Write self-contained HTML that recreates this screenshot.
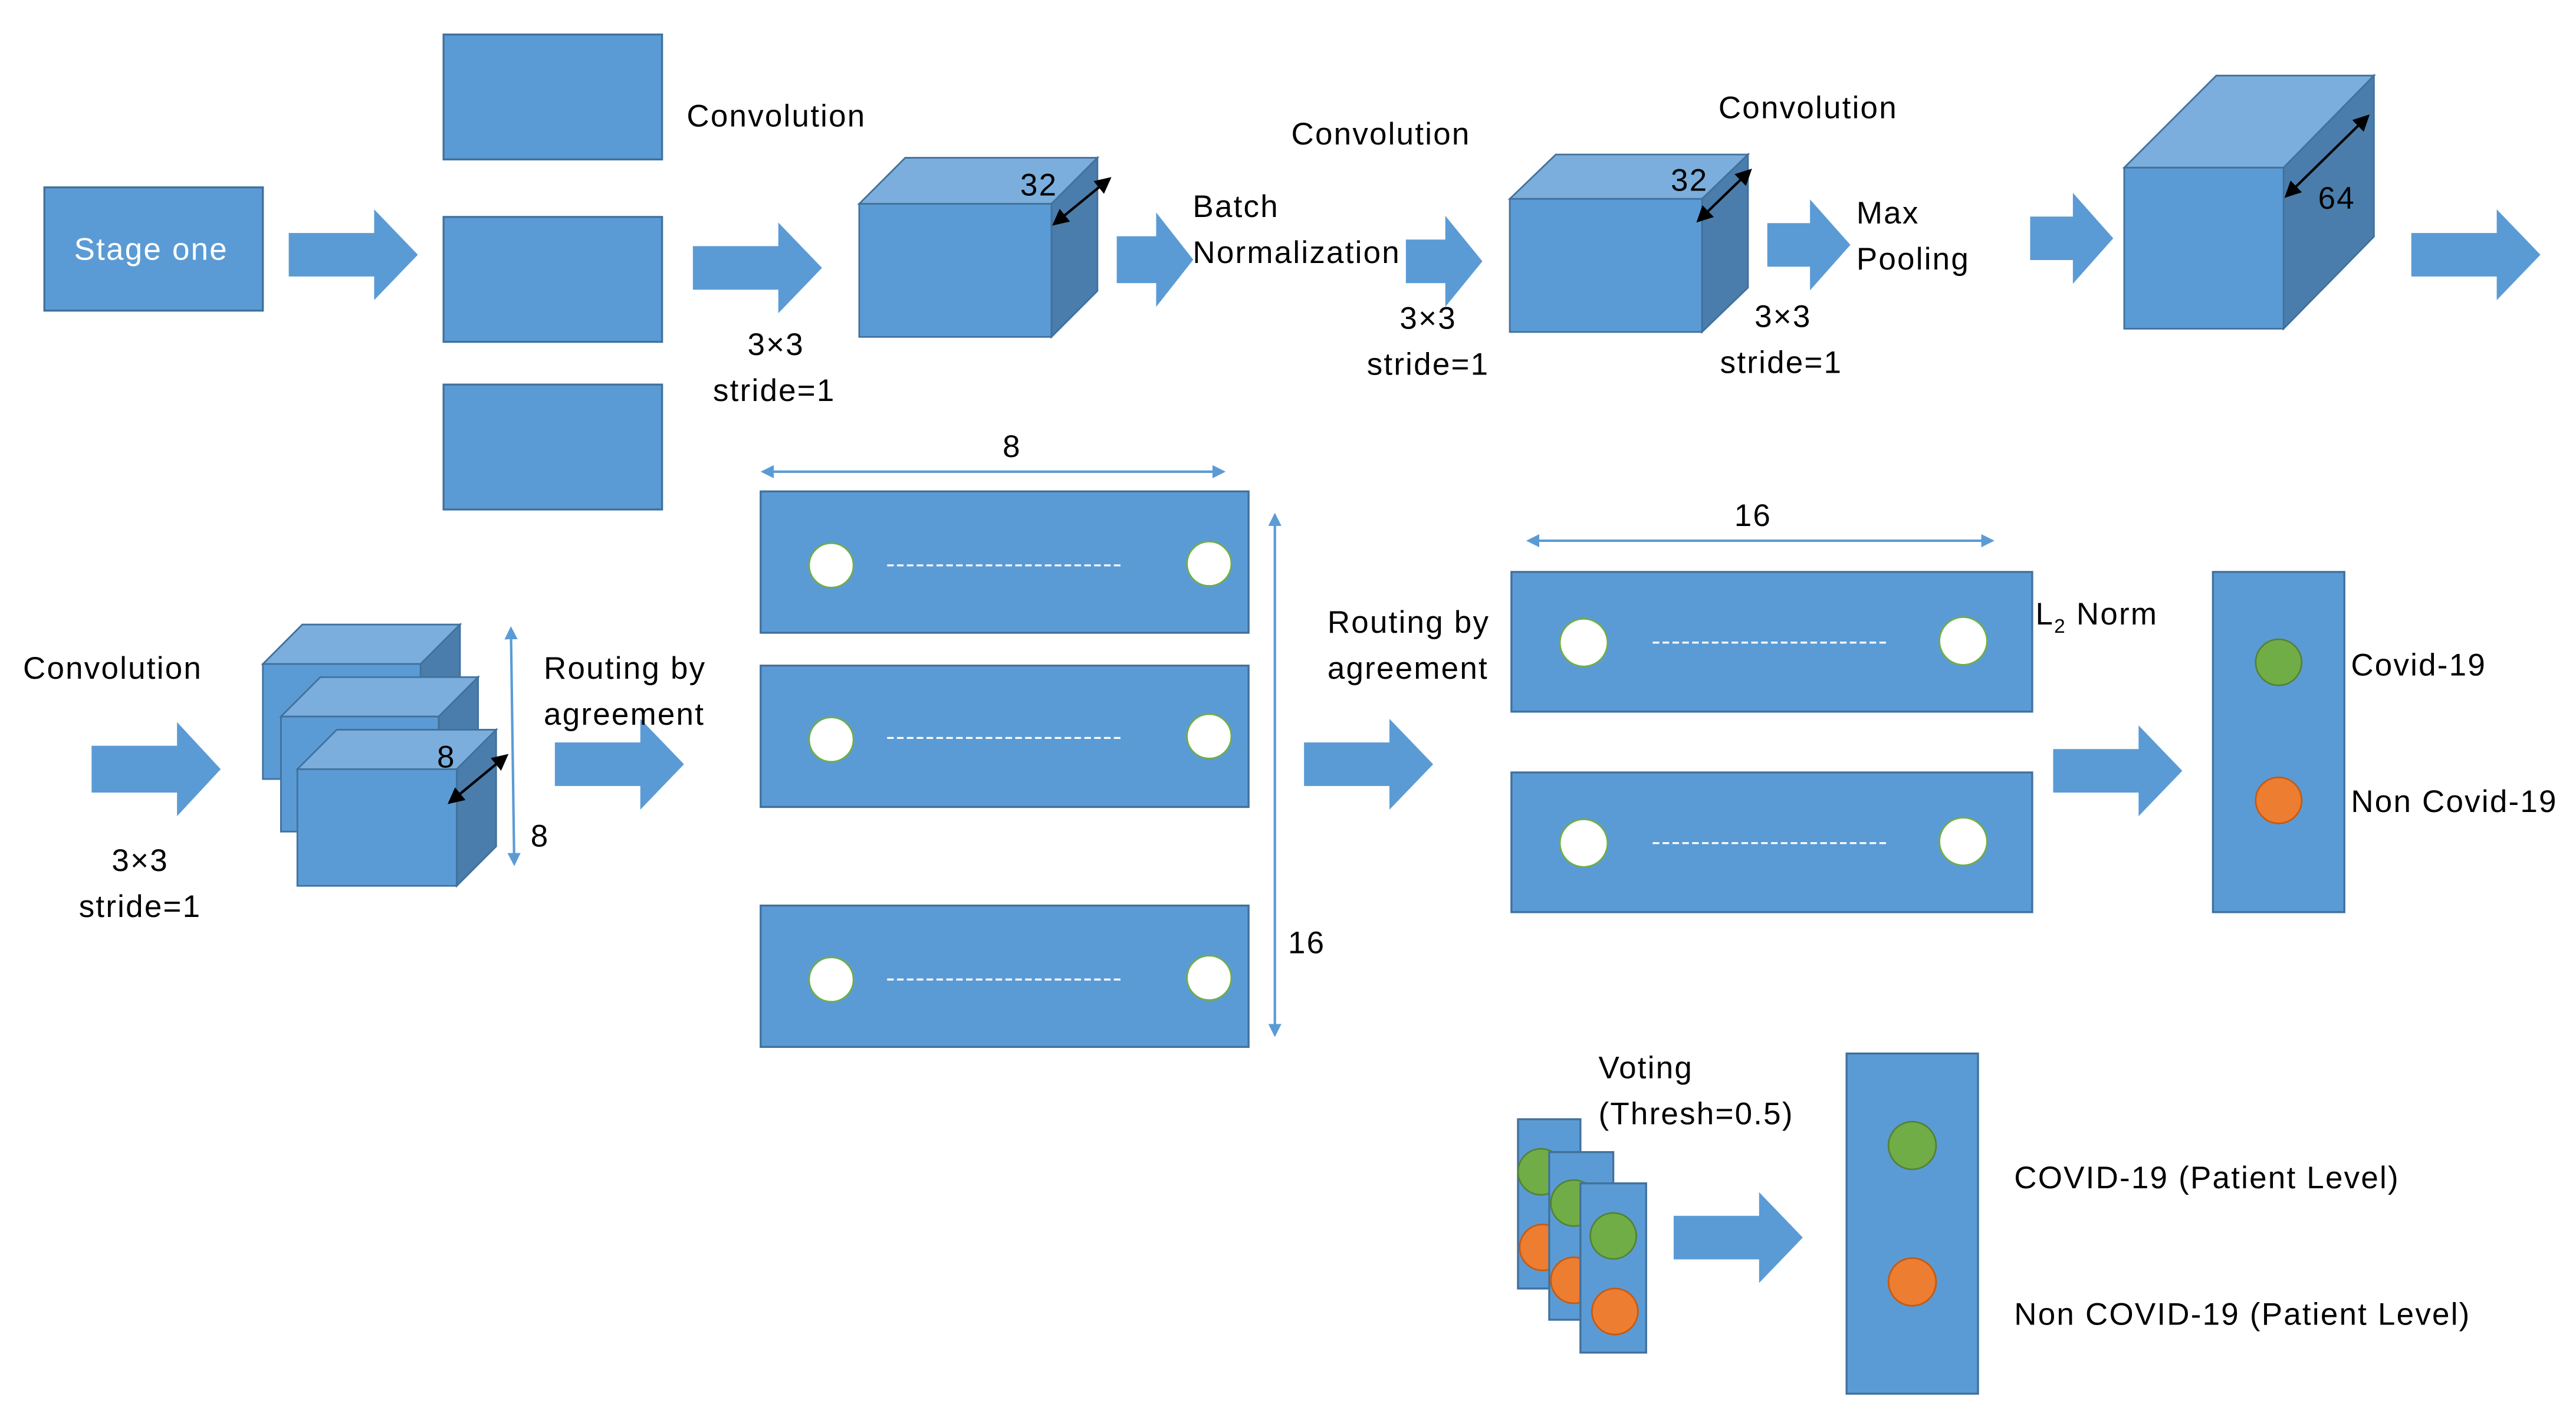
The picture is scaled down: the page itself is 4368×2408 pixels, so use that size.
<!DOCTYPE html>
<html><head><meta charset="utf-8"><style>
html,body{margin:0;padding:0;background:#fff;}
svg{display:block;}
text{font-family:"Liberation Sans",sans-serif;font-size:19px;fill:#000;letter-spacing:0.8px;}
</style></head><body>
<svg width="4368" height="2408" viewBox="0 0 1568 864" preserveAspectRatio="none" xmlns="http://www.w3.org/2000/svg">
<defs>
<marker id="ab" markerWidth="8" markerHeight="8" refX="6" refY="4" orient="auto-start-reverse" markerUnits="userSpaceOnUse"><path d="M0,0 L8,4 L0,8 z" fill="#5B9BD5"/></marker>
<marker id="ak" markerWidth="10" markerHeight="10" refX="8" refY="5" orient="auto-start-reverse" markerUnits="userSpaceOnUse"><path d="M0,0 L10,5 L0,10 z" fill="#000"/></marker>
</defs>
<g fill="#5B9BD5" stroke="#41719C" stroke-width="1.2">
<rect x="27" y="114" width="133" height="75"/>
<rect x="270" y="21" width="133" height="76"/>
<rect x="270" y="132" width="133" height="76"/>
<rect x="270" y="234" width="133" height="76"/>
</g>
<text x="92" y="158" text-anchor="middle" style="fill:#fff">Stage one</text>
<g fill="#5B9BD5" stroke="#5B9BD5" stroke-width="0.5">
<path d="M176,142 H228 V128 L254,155 L228,182 V168 H176 Z"/>
<path d="M422,150 H474 V136 L500,163 L474,190 V176 H422 Z"/>
<path d="M680,144 H704 V130 L726,158 L704,186 V172 H680 Z"/>
<path d="M856,146 H880 V132 L902,159 L880,186 V172 H856 Z"/>
<path d="M1076,136 H1102 V122 L1126,149 L1102,176 V162 H1076 Z"/>
<path d="M1236,132 H1262 V118 L1286,145 L1262,172 V158 H1236 Z"/>
<path d="M1468,142 H1520 V128 L1546,155 L1520,182 V168 H1468 Z"/>
<path d="M56,454 H108 V440 L134,468 L108,496 V482 H56 Z"/>
<path d="M338,452 H390 V438 L416,465 L390,492 V478 H338 Z"/>
<path d="M794,452 H846 V438 L872,465 L846,492 V478 H794 Z"/>
<path d="M1250,456 H1302 V442 L1328,469 L1302,496 V482 H1250 Z"/>
<path d="M1019,740 H1071 V726 L1097,753 L1071,780 V766 H1019 Z"/>
</g>
<g stroke="#41719C" stroke-width="1">
<path d="M523,124 L551,96 H668 L640,124 Z" fill="#7BAEDC"/>
<path d="M640,124 L668,96 V177 L640,205 Z" fill="#4A7DAB"/>
<rect x="523" y="124" width="117" height="81" fill="#5B9BD5"/>
<path d="M919,121 L947,94 H1064 L1036,121 Z" fill="#7BAEDC"/>
<path d="M1036,121 L1064,94 V175 L1036,202 Z" fill="#4A7DAB"/>
<rect x="919" y="121" width="117" height="81" fill="#5B9BD5"/>
<path d="M1293,102 L1349,46 H1445 L1390,102 Z" fill="#7BAEDC"/>
<path d="M1390,102 L1445,46 V144 L1390,200 Z" fill="#4A7DAB"/>
<rect x="1293" y="102" width="97" height="98" fill="#5B9BD5"/>
<path d="M160,404 L184,380 H280 L256,404 Z" fill="#7BAEDC"/>
<path d="M256,404 L280,380 V450 L256,474 Z" fill="#4A7DAB"/>
<rect x="160" y="404" width="96" height="70" fill="#5B9BD5"/>
<path d="M171,436 L195,412 H291 L267,436 Z" fill="#7BAEDC"/>
<path d="M267,436 L291,412 V482 L267,506 Z" fill="#4A7DAB"/>
<rect x="171" y="436" width="96" height="70" fill="#5B9BD5"/>
<path d="M181,468 L205,444 H302 L278,468 Z" fill="#7BAEDC"/>
<path d="M278,468 L302,444 V515 L278,539 Z" fill="#4A7DAB"/>
<rect x="181" y="468" width="97" height="71" fill="#5B9BD5"/>
</g>
<g stroke="#000" stroke-width="1.5">
<line x1="642" y1="136" x2="675" y2="109" marker-start="url(#ak)" marker-end="url(#ak)"/>
<line x1="1034" y1="134" x2="1065" y2="104" marker-start="url(#ak)" marker-end="url(#ak)"/>
<line x1="1392" y1="119" x2="1441" y2="71" marker-start="url(#ak)" marker-end="url(#ak)"/>
<line x1="274" y1="488" x2="308" y2="460" marker-start="url(#ak)" marker-end="url(#ak)"/>
</g>
<text x="621" y="119">32</text>
<text x="1017" y="116">32</text>
<text x="1411" y="127">64</text>
<text x="266" y="467">8</text>
<g stroke="#5B9BD5" stroke-width="1.5" fill="none">
<line x1="465" y1="287" x2="744" y2="287" marker-start="url(#ab)" marker-end="url(#ab)"/>
<line x1="776" y1="314" x2="776" y2="629" marker-start="url(#ab)" marker-end="url(#ab)"/>
<line x1="931" y1="329" x2="1212" y2="329" marker-start="url(#ab)" marker-end="url(#ab)"/>
<line x1="311" y1="383" x2="313" y2="525" marker-start="url(#ab)" marker-end="url(#ab)"/>
</g>
<text x="616" y="278" text-anchor="middle">8</text>
<text x="784" y="580">16</text>
<text x="1067" y="320" text-anchor="middle">16</text>
<text x="323" y="515">8</text>
<g fill="#5B9BD5" stroke="#41719C" stroke-width="1.2">
<rect x="463" y="299" width="297" height="86"/>
<rect x="463" y="405" width="297" height="86"/>
<rect x="463" y="551" width="297" height="86"/>
<rect x="920" y="348" width="317" height="85"/>
<rect x="920" y="470" width="317" height="85"/>
<rect x="1347" y="348" width="80" height="207"/>
<rect x="1124" y="641" width="80" height="207"/>
<rect x="924" y="681" width="38" height="103"/>
</g>
<g fill="#fff" stroke="#70AD47" stroke-width="1">
<circle cx="506" cy="344" r="13.5"/><circle cx="736" cy="343" r="13.5"/>
<circle cx="506" cy="450" r="13.5"/><circle cx="736" cy="448" r="13.5"/>
<circle cx="506" cy="596" r="13.5"/><circle cx="736" cy="595" r="13.5"/>
<circle cx="964" cy="391" r="14.5"/><circle cx="1195" cy="390" r="14.5"/>
<circle cx="964" cy="513" r="14.5"/><circle cx="1195" cy="512" r="14.5"/>
</g>
<g stroke="#fff" stroke-width="1.2" stroke-dasharray="4,2">
<line x1="540" y1="344" x2="684" y2="344"/>
<line x1="540" y1="449" x2="684" y2="449"/>
<line x1="540" y1="596" x2="684" y2="596"/>
<line x1="1006" y1="391" x2="1150" y2="391"/>
<line x1="1006" y1="513" x2="1150" y2="513"/>
</g>
<circle cx="1387" cy="403" r="14" fill="#70AD47" stroke="#548235"/>
<circle cx="1387" cy="487" r="14" fill="#ED7D31" stroke="#C55A11"/>
<circle cx="1164" cy="697" r="14.5" fill="#70AD47" stroke="#548235"/>
<circle cx="1164" cy="780" r="14.5" fill="#ED7D31" stroke="#C55A11"/>
<circle cx="938" cy="713" r="14" fill="#70AD47" stroke="#548235"/>
<circle cx="939" cy="759" r="14" fill="#ED7D31" stroke="#C55A11"/>
<rect x="943" y="701" width="39" height="102" fill="#5B9BD5" stroke="#41719C" stroke-width="1.2"/>
<circle cx="958" cy="732" r="14" fill="#70AD47" stroke="#548235"/>
<circle cx="958" cy="779" r="14" fill="#ED7D31" stroke="#C55A11"/>
<rect x="962" y="720" width="40" height="103" fill="#5B9BD5" stroke="#41719C" stroke-width="1.2"/>
<circle cx="982" cy="752" r="14" fill="#70AD47" stroke="#548235"/>
<circle cx="983" cy="798" r="14" fill="#ED7D31" stroke="#C55A11"/>
<text x="418" y="77">Convolution</text>
<text x="455" y="216">3×3</text>
<text x="434" y="244">stride=1</text>
<text x="726" y="132">Batch</text>
<text x="726" y="160">Normalization</text>
<text x="786" y="88">Convolution</text>
<text x="852" y="200">3×3</text>
<text x="832" y="228">stride=1</text>
<text x="1046" y="72">Convolution</text>
<text x="1130" y="136">Max</text>
<text x="1130" y="164">Pooling</text>
<text x="1068" y="199">3×3</text>
<text x="1047" y="227">stride=1</text>
<text x="14" y="413">Convolution</text>
<text x="68" y="530">3×3</text>
<text x="48" y="558">stride=1</text>
<text x="331" y="413">Routing by</text>
<text x="331" y="441">agreement</text>
<text x="808" y="385">Routing by</text>
<text x="808" y="413">agreement</text>
<text x="1239" y="380">L<tspan font-size="12" dy="5">2</tspan><tspan dy="-5"> Norm</tspan></text>
<text x="1431" y="411">Covid-19</text>
<text x="1431" y="494">Non Covid-19</text>
<text x="973" y="656">Voting</text>
<text x="973" y="684">(Thresh=0.5)</text>
<text x="1226" y="723">COVID-19 (Patient Level)</text>
<text x="1226" y="806">Non COVID-19 (Patient Level)</text>
</svg>
</body></html>
